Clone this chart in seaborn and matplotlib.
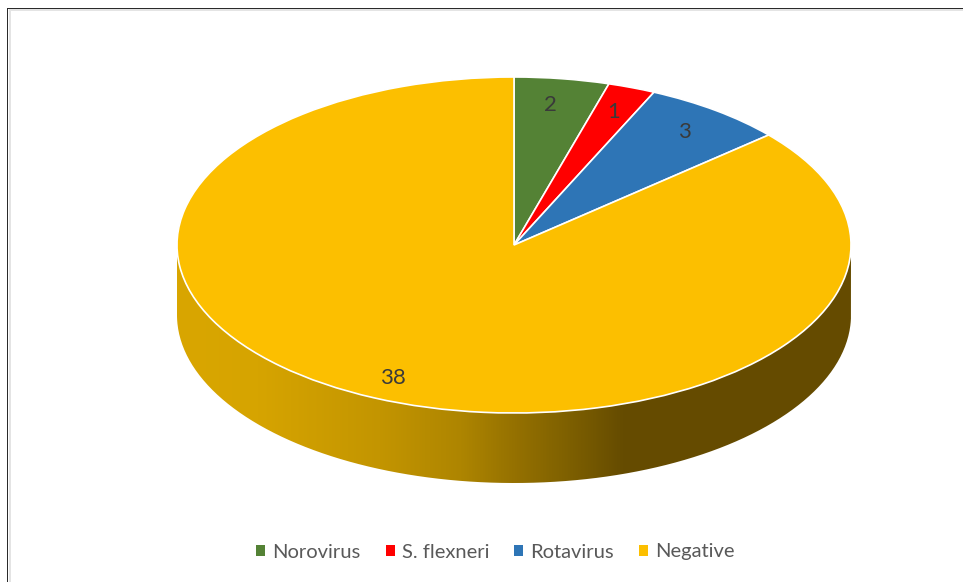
import numpy as np
import matplotlib
matplotlib.use("Agg")
import matplotlib.pyplot as plt
from matplotlib.colors import LinearSegmentedColormap
from matplotlib.patches import PathPatch, Rectangle
from matplotlib.path import Path
import seaborn as sns

categories = ["Norovirus", "S. flexneri", "Rotavirus", "Negative"]
counts = [2, 1, 3, 38]
colors = ["#548235", "#FF0000", "#2E75B6", "#FCBF00"]
side_stops = [(0.0, "#D9A600"), (0.12, "#D6A400"), (0.30, "#C39500"), (0.42, "#AE8500"),
              (0.50, "#957100"), (0.58, "#7E6000"), (0.66, "#664C00"), (1.0, "#654B00")]

sns.set_theme(style="white")
plt.rcParams["font.family"] = ["Lato", "Open Sans", "DejaVu Sans"]

W, H = 963, 582
fig = plt.figure(figsize=(W / 100, H / 100), dpi=100, facecolor="white")
ax = fig.add_axes([0, 0, 1, 1])

CX, CY, RX, RY, DEPTH = 514, 245, 337, 168, 70

wedges, texts, autotexts = ax.pie(
    counts, colors=colors, startangle=90, counterclock=False,
    autopct=lambda p: f"{round(p * sum(counts) / 100)}", pctdistance=0.855,
    wedgeprops=dict(edgecolor="white", linewidth=1.2, zorder=3),
    textprops=dict(color="#3A3A3A", fontsize=16, zorder=4),
)
label_dx = [-5, -1, -2, -1]
for at, dx in zip(autotexts, label_dx):
    x, y = at.get_position()
    at.set_position((x + dx / RX, y - 2 / RY))
ax.set_aspect("auto")

d = DEPTH / RY
t = np.linspace(np.pi, 2 * np.pi, 300)
xs = np.cos(t)
top = np.sin(t)
verts = np.r_[np.c_[xs, top], np.c_[xs[::-1], top[::-1] - d]]
clip = PathPatch(Path(verts), transform=ax.transData, facecolor="none", edgecolor="none")
ax.add_patch(clip)
cmap = LinearSegmentedColormap.from_list("side", side_stops)
im = ax.imshow(np.linspace(0, 1, 512)[None, :], cmap=cmap, aspect="auto",
               extent=(-1, 1, -1 - d, 0), zorder=1, interpolation="bilinear")
im.set_clip_path(clip)
# pixel-mapped data limits so that the unit pie becomes a tilted ellipse
ax.set_xlim((0 - CX) / RX, (W - CX) / RX)
ax.set_ylim((CY - H) / RY, (CY - 0) / RY)

# Frame (left and top edges only, with the soft inner shadow of the screenshot)
for x0, y0, w, h, c in [(8.5, 0, 2.5, H - 10.5, "#E4E4E4"), (8.5, H - 11, W, 2.5, "#E4E4E4"),
                        (7, 0, 1.4, H - 8, "#2A2A2A"), (7, H - 9.2, W, 1.4, "#2A2A2A")]:
    fig.add_artist(Rectangle((x0 / W, y0 / H), w / W, h / H, transform=fig.transFigure,
                             facecolor=c, edgecolor="none"))

handles = [Rectangle((0, 0), 1, 1, facecolor=c, edgecolor="none") for c in colors]
leg = fig.legend(handles, categories, loc="center", bbox_to_anchor=(495.5 / W, 1 - 552 / H),
                 ncol=4, frameon=False, fontsize=14.5, labelcolor="#595959",
                 handlelength=0.45, handleheight=0.45, handletextpad=0.35, columnspacing=1.25)

fig.savefig("out.png", dpi=100, facecolor="white")
